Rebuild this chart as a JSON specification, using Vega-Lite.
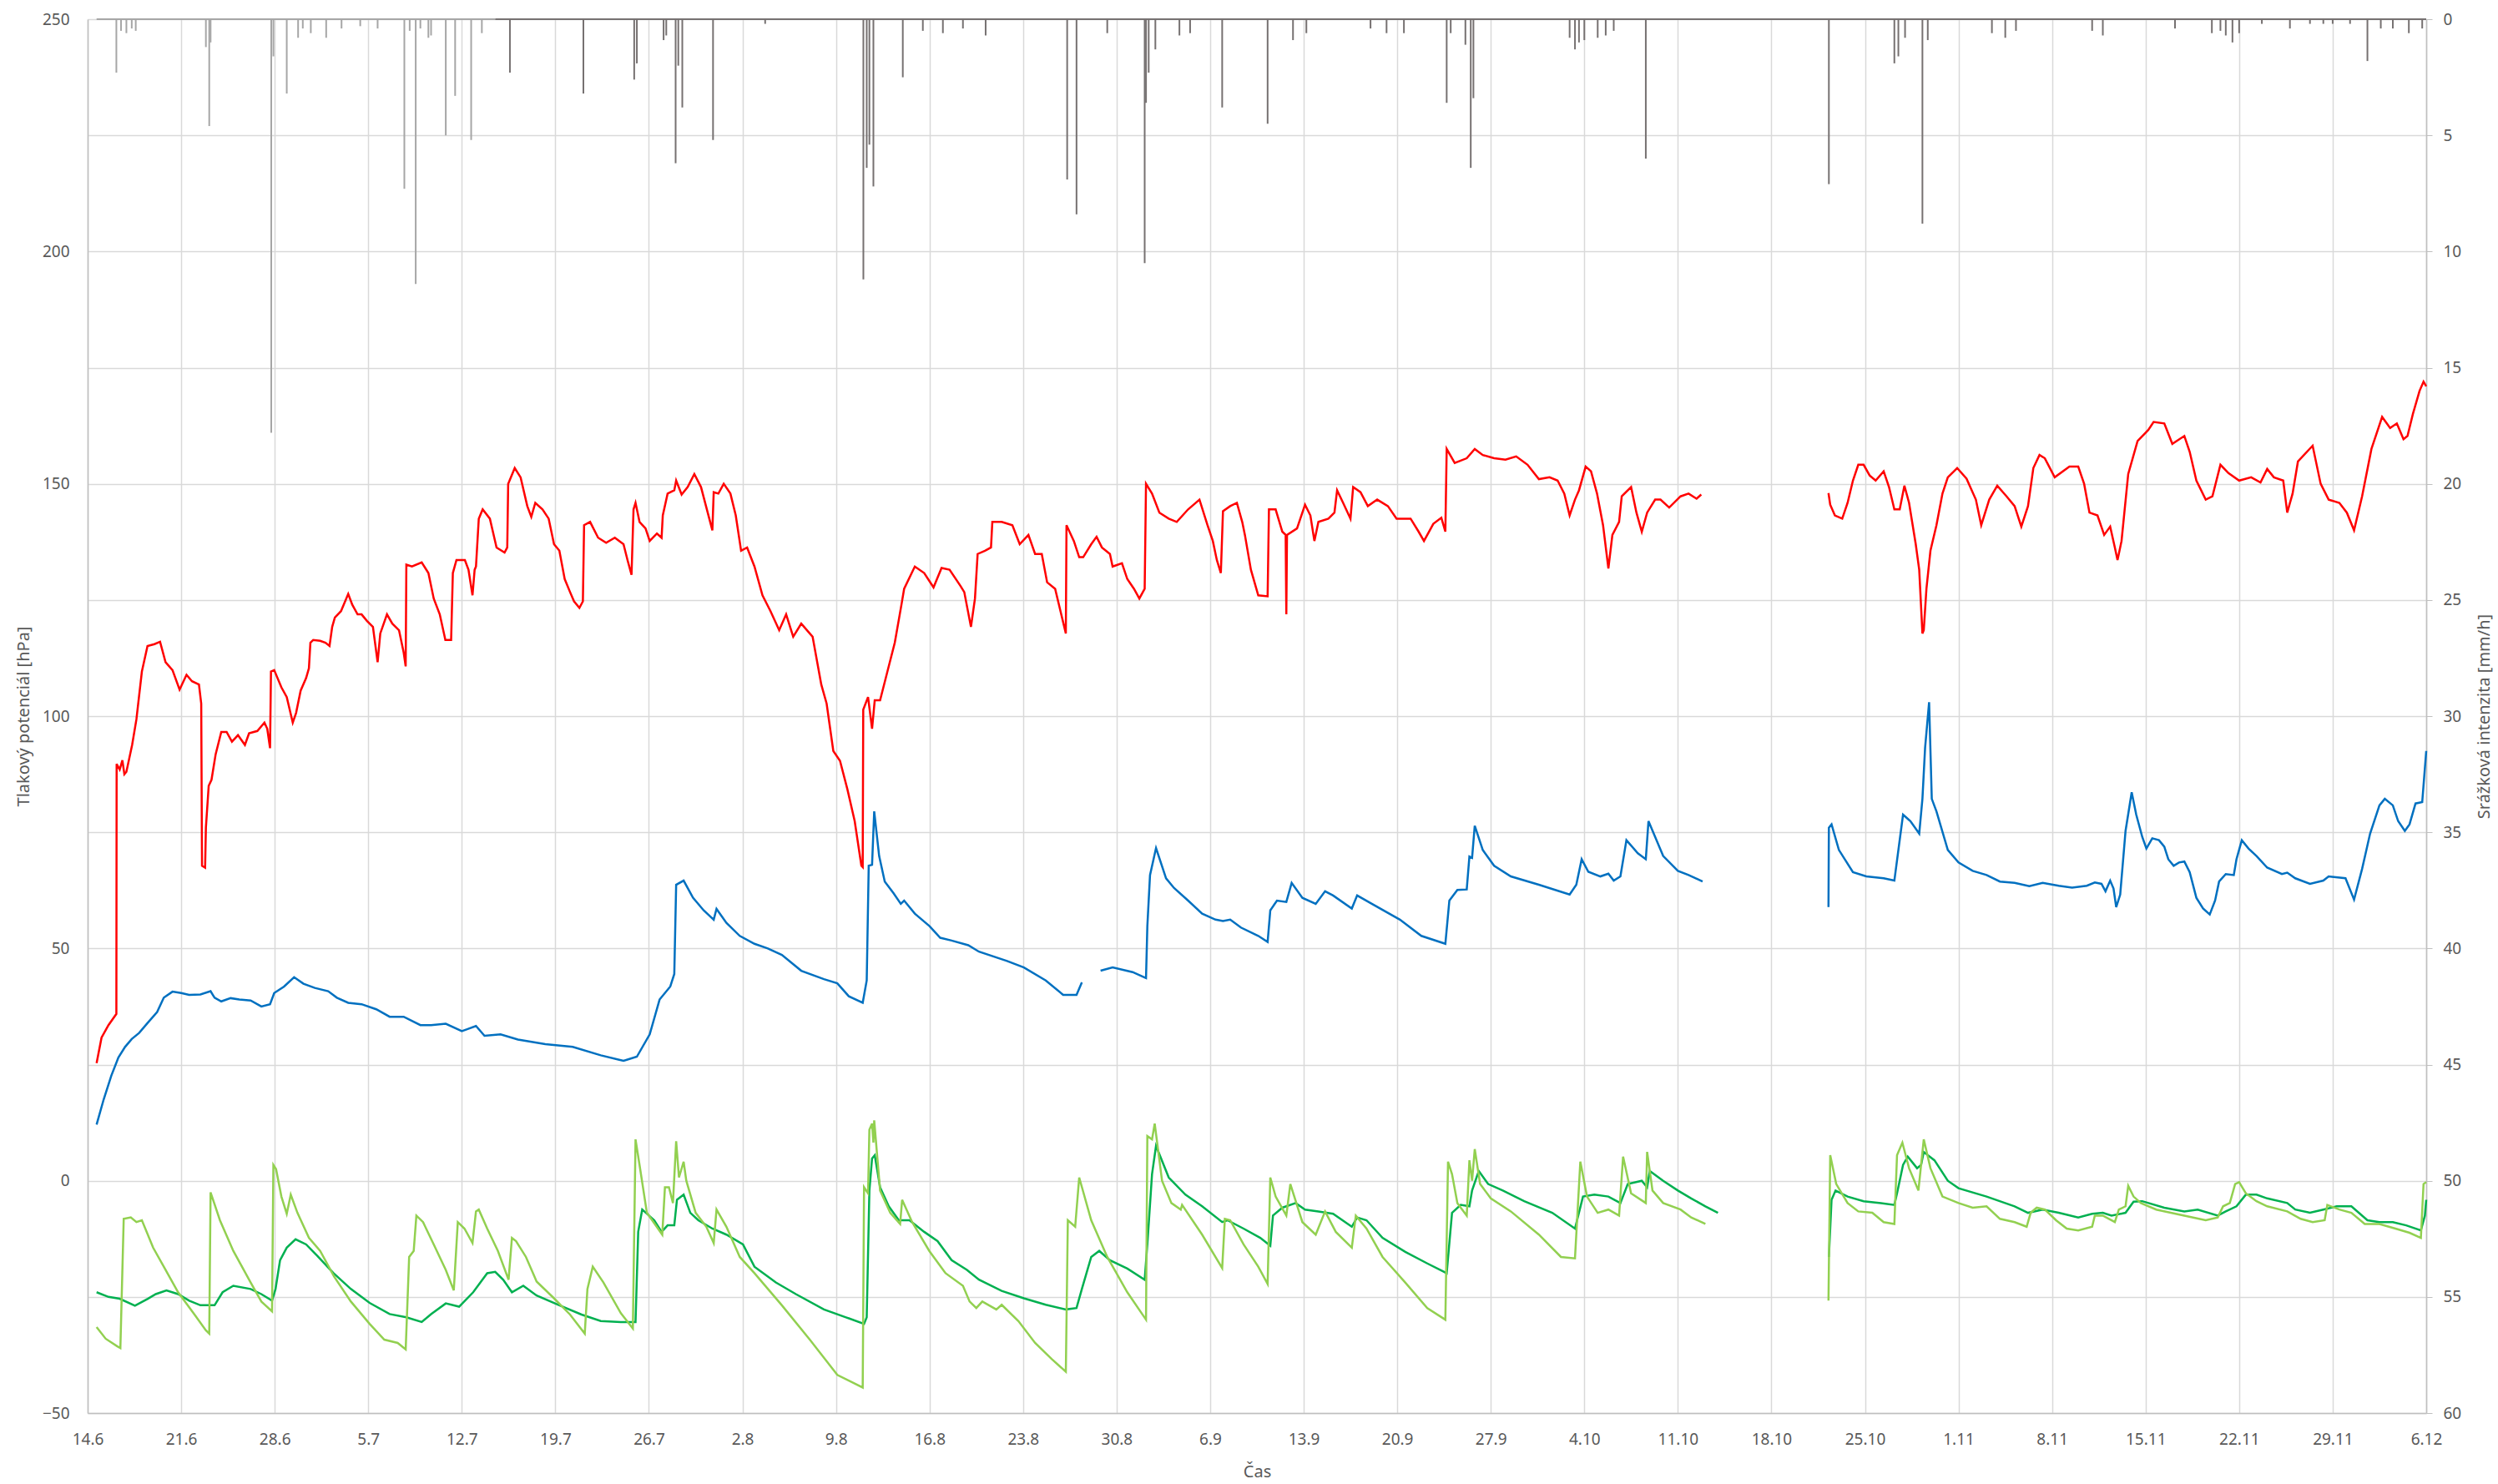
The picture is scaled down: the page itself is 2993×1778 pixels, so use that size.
{
"$schema": "https://vega.github.io/schema/vega-lite/v6.json",
"width": 2802, "height": 1670,
"autosize": {"type": "none"},
"padding": {"left": 105, "top": 23, "right": 86, "bottom": 85},
"background": "white",
"config": {"view": {"stroke": null}, "font": "Noto Sans",
  "axis": {"labelFont": "Noto Sans", "titleFont": "Noto Sans", "labelFontSize": 19, "titleFontSize": 20, "labelColor": "#595959", "titleColor": "#595959", "titleFontWeight": "normal", "domainColor": "#bfbfbf", "domainWidth": 1.5, "gridColor": "#d9d9d9", "gridWidth": 1.5, "tickColor": "#bfbfbf"}},
"datasets": {
"red": [{"t":0.67,"v":25.3},{"t":1.04,"v":30.8},{"t":1.56,"v":33.5},{"t":2.15,"v":35.9},{"t":2.17,"v":89.7},{"t":2.4,"v":88.5},{"t":2.6,"v":90.5},{"t":2.75,"v":87.5},{"t":2.9,"v":88},{"t":3.33,"v":93.8},{"t":3.65,"v":99.3},{"t":4.06,"v":109.6},{"t":4.48,"v":115.1},{"t":5.0,"v":115.5},{"t":5.42,"v":116},{"t":5.83,"v":111.6},{"t":6.35,"v":109.9},{"t":6.88,"v":105.7},{"t":7.4,"v":108.9},{"t":7.81,"v":107.5},{"t":8.33,"v":106.8},{"t":8.5,"v":102.7},{"t":8.56,"v":67.8},{"t":8.79,"v":67.4},{"t":8.85,"v":76},{"t":9.06,"v":85},{"t":9.27,"v":86.3},{"t":9.58,"v":91.8},{"t":10.0,"v":96.6},{"t":10.4,"v":96.6},{"t":10.8,"v":94.5},{"t":11.25,"v":95.9},{"t":11.77,"v":93.8},{"t":12.08,"v":96.3},{"t":12.7,"v":96.8},{"t":13.23,"v":98.6},{"t":13.44,"v":97.3},{"t":13.65,"v":93.1},{"t":13.72,"v":109.6},{"t":13.96,"v":109.9},{"t":14.5,"v":106.2},{"t":14.9,"v":104.1},{"t":15.35,"v":98.6},{"t":15.6,"v":100.7},{"t":15.94,"v":105.5},{"t":16.35,"v":108.2},{"t":16.56,"v":110.3},{"t":16.67,"v":115.8},{"t":16.88,"v":116.4},{"t":17.4,"v":116.2},{"t":17.8,"v":115.8},{"t":18.1,"v":115.1},{"t":18.3,"v":119.2},{"t":18.5,"v":121.2},{"t":18.96,"v":122.6},{"t":19.5,"v":126.3},{"t":19.8,"v":124},{"t":20.2,"v":121.9},{"t":20.5,"v":121.9},{"t":20.9,"v":120.5},{"t":21.35,"v":119.2},{"t":21.7,"v":111.6},{"t":21.9,"v":117.8},{"t":22.4,"v":121.9},{"t":22.8,"v":119.9},{"t":23.3,"v":118.5},{"t":23.65,"v":113.7},{"t":23.8,"v":110.7},{"t":23.85,"v":132.6},{"t":24.27,"v":132.2},{"t":25.0,"v":133.1},{"t":25.5,"v":130.8},{"t":25.9,"v":125.3},{"t":26.35,"v":121.9},{"t":26.77,"v":116.4},{"t":27.2,"v":116.4},{"t":27.33,"v":130.8},{"t":27.6,"v":133.6},{"t":28.23,"v":133.6},{"t":28.5,"v":131.5},{"t":28.8,"v":126},{"t":28.96,"v":131.5},{"t":29.06,"v":132.2},{"t":29.27,"v":142.5},{"t":29.56,"v":144.5},{"t":30.1,"v":142.5},{"t":30.6,"v":136.3},{"t":31.2,"v":135.2},{"t":31.4,"v":136.3},{"t":31.47,"v":150},{"t":31.96,"v":153.4},{"t":32.4,"v":151.4},{"t":32.9,"v":145.2},{"t":33.2,"v":142.9},{"t":33.5,"v":145.9},{"t":34.04,"v":144.5},{"t":34.5,"v":142.5},{"t":34.9,"v":137},{"t":35.3,"v":135.6},{"t":35.7,"v":129.5},{"t":36.1,"v":126.7},{"t":36.4,"v":124.7},{"t":36.8,"v":123.3},{"t":37.06,"v":124.7},{"t":37.15,"v":141.1},{"t":37.6,"v":141.8},{"t":38.2,"v":138.4},{"t":38.8,"v":137.3},{"t":39.45,"v":138.4},{"t":40.1,"v":137},{"t":40.4,"v":133.6},{"t":40.7,"v":130.4},{"t":40.85,"v":144.5},{"t":41.0,"v":145.9},{"t":41.3,"v":141.8},{"t":41.75,"v":140.4},{"t":42.06,"v":137.7},{"t":42.6,"v":139.3},{"t":42.95,"v":138.4},{"t":43.04,"v":143.2},{"t":43.4,"v":147.9},{"t":43.9,"v":148.6},{"t":44.04,"v":150.7},{"t":44.45,"v":147.7},{"t":44.9,"v":149.3},{"t":45.4,"v":152.1},{"t":45.9,"v":149.3},{"t":46.4,"v":143.8},{"t":46.75,"v":140},{"t":46.85,"v":148.2},{"t":47.2,"v":147.9},{"t":47.6,"v":150},{"t":48.1,"v":147.9},{"t":48.5,"v":143.2},{"t":48.9,"v":135.6},{"t":49.35,"v":136.3},{"t":49.9,"v":132.2},{"t":50.5,"v":126},{"t":51.1,"v":122.6},{"t":51.75,"v":118.5},{"t":52.27,"v":121.9},{"t":52.8,"v":117.1},{"t":53.4,"v":119.9},{"t":54.25,"v":117.1},{"t":54.9,"v":106.8},{"t":55.3,"v":102.7},{"t":55.8,"v":92.5},{"t":56.3,"v":90.4},{"t":56.85,"v":84.3},{"t":57.4,"v":77.4},{"t":57.9,"v":67.8},{"t":58.0,"v":67.5},{"t":58.04,"v":101.4},{"t":58.4,"v":104.1},{"t":58.7,"v":97.3},{"t":58.9,"v":103.4},{"t":59.3,"v":103.4},{"t":59.85,"v":109.6},{"t":60.4,"v":115.8},{"t":60.9,"v":124},{"t":61.1,"v":127.4},{"t":61.9,"v":132.2},{"t":62.6,"v":130.8},{"t":63.3,"v":127.7},{"t":63.9,"v":131.9},{"t":64.5,"v":131.5},{"t":65.3,"v":128.1},{"t":65.6,"v":126.7},{"t":66.1,"v":119.2},{"t":66.4,"v":125.3},{"t":66.6,"v":134.9},{"t":67.15,"v":135.6},{"t":67.6,"v":136.3},{"t":67.7,"v":141.8},{"t":68.4,"v":141.8},{"t":69.2,"v":141.1},{"t":69.75,"v":137},{"t":70.4,"v":139},{"t":70.9,"v":134.9},{"t":71.4,"v":134.9},{"t":71.8,"v":128.8},{"t":72.4,"v":127.4},{"t":72.8,"v":122.6},{"t":73.2,"v":117.8},{"t":73.25,"v":141.1},{"t":73.8,"v":137.7},{"t":74.2,"v":134.2},{"t":74.5,"v":134.2},{"t":75.1,"v":137},{"t":75.5,"v":138.6},{"t":75.9,"v":136.3},{"t":76.5,"v":134.9},{"t":76.7,"v":132.2},{"t":77.4,"v":132.9},{"t":77.8,"v":129.5},{"t":78.3,"v":127.4},{"t":78.7,"v":125.3},{"t":79.1,"v":127.4},{"t":79.2,"v":150},{"t":79.65,"v":147.9},{"t":80.2,"v":143.8},{"t":80.9,"v":142.5},{"t":81.5,"v":141.8},{"t":82.35,"v":144.5},{"t":83.2,"v":146.6},{"t":83.8,"v":141.1},{"t":84.2,"v":137.7},{"t":84.5,"v":133.6},{"t":84.8,"v":130.8},{"t":84.96,"v":144.1},{"t":85.5,"v":145.2},{"t":86.0,"v":145.9},{"t":86.4,"v":141.8},{"t":86.6,"v":139},{"t":87.05,"v":131.5},{"t":87.6,"v":126},{"t":88.3,"v":125.8},{"t":88.4,"v":144.5},{"t":88.9,"v":144.5},{"t":89.4,"v":139.7},{"t":89.65,"v":139},{"t":89.7,"v":121.9},{"t":89.75,"v":139},{"t":90.5,"v":140.4},{"t":91.1,"v":145.5},{"t":91.5,"v":143.2},{"t":91.8,"v":137.7},{"t":92.1,"v":141.8},{"t":92.85,"v":142.5},{"t":93.3,"v":143.8},{"t":93.5,"v":148.6},{"t":93.95,"v":145.9},{"t":94.5,"v":142.5},{"t":94.7,"v":149.3},{"t":95.25,"v":148.2},{"t":95.8,"v":145.2},{"t":96.5,"v":146.6},{"t":97.3,"v":145.2},{"t":97.95,"v":142.5},{"t":99.0,"v":142.5},{"t":99.6,"v":139.7},{"t":100.0,"v":137.7},{"t":100.7,"v":141.4},{"t":101.3,"v":142.7},{"t":101.6,"v":139.7},{"t":101.7,"v":157.5},{"t":102.3,"v":154.5},{"t":103.2,"v":155.5},{"t":103.8,"v":157.5},{"t":104.4,"v":156.2},{"t":105.25,"v":155.5},{"t":106.1,"v":155.2},{"t":106.9,"v":155.9},{"t":107.75,"v":154.1},{"t":108.6,"v":151},{"t":109.4,"v":151.4},{"t":110.0,"v":150.7},{"t":110.5,"v":147.9},{"t":110.9,"v":143.2},{"t":111.3,"v":146.6},{"t":111.6,"v":148.6},{"t":112.1,"v":153.7},{"t":112.5,"v":152.7},{"t":112.95,"v":147.9},{"t":113.4,"v":141.1},{"t":113.8,"v":131.8},{"t":114.1,"v":139},{"t":114.6,"v":141.8},{"t":114.8,"v":147.3},{"t":115.5,"v":149.3},{"t":115.9,"v":143.8},{"t":116.3,"v":139.7},{"t":116.7,"v":143.8},{"t":117.3,"v":146.6},{"t":117.7,"v":146.6},{"t":118.35,"v":144.9},{"t":119.2,"v":147.3},{"t":119.8,"v":147.9},{"t":120.4,"v":146.8},{"t":120.75,"v":147.7},{"t":125,"v":null},{"t":130.27,"v":148},{"t":130.4,"v":145.5},{"t":130.75,"v":143.2},{"t":131.3,"v":142.5},{"t":131.7,"v":145.9},{"t":132.1,"v":150.7},{"t":132.5,"v":154.1},{"t":132.9,"v":154.1},{"t":133.35,"v":151.8},{"t":133.8,"v":150.7},{"t":134.4,"v":152.7},{"t":134.8,"v":149.3},{"t":135.2,"v":144.5},{"t":135.6,"v":144.5},{"t":135.95,"v":149.6},{"t":136.3,"v":145.9},{"t":136.8,"v":137},{"t":137.06,"v":131.5},{"t":137.3,"v":117.8},{"t":137.4,"v":118.5},{"t":137.6,"v":127.4},{"t":137.9,"v":135.6},{"t":138.35,"v":141.1},{"t":138.8,"v":147.9},{"t":139.2,"v":151.4},{"t":139.9,"v":153.4},{"t":140.6,"v":151.1},{"t":141.3,"v":146.6},{"t":141.7,"v":141.1},{"t":142.3,"v":146.6},{"t":142.9,"v":149.6},{"t":143.6,"v":147.3},{"t":144.2,"v":145.2},{"t":144.7,"v":140.8},{"t":145.2,"v":145.2},{"t":145.6,"v":153.4},{"t":146.06,"v":156.2},{"t":146.46,"v":155.5},{"t":147.2,"v":151.4},{"t":148.3,"v":153.7},{"t":148.96,"v":153.7},{"t":149.4,"v":150},{"t":149.8,"v":143.8},{"t":150.4,"v":143.2},{"t":150.9,"v":139},{"t":151.35,"v":140.8},{"t":151.7,"v":136.3},{"t":151.9,"v":133.6},{"t":152.2,"v":137.7},{"t":152.7,"v":152.1},{"t":153.4,"v":159.2},{"t":154.2,"v":161.6},{"t":154.6,"v":163.3},{"t":155.4,"v":163},{"t":156.0,"v":158.6},{"t":156.9,"v":160.3},{"t":157.3,"v":156.9},{"t":157.8,"v":150.7},{"t":158.5,"v":146.6},{"t":159.0,"v":147.3},{"t":159.6,"v":154.1},{"t":160.2,"v":152.3},{"t":161.0,"v":150.7},{"t":161.9,"v":151.4},{"t":162.6,"v":150.3},{"t":163.1,"v":153.2},{"t":163.6,"v":151.4},{"t":164.3,"v":150.7},{"t":164.6,"v":143.8},{"t":165.0,"v":147.9},{"t":165.4,"v":154.8},{"t":166.5,"v":158.2},{"t":167.1,"v":150},{"t":167.7,"v":146.6},{"t":168.5,"v":145.9},{"t":169.06,"v":143.8},{"t":169.6,"v":140},{"t":170.2,"v":147.3},{"t":170.9,"v":157.5},{"t":171.7,"v":164.4},{"t":172.3,"v":162},{"t":172.8,"v":163},{"t":173.3,"v":159.6},{"t":173.6,"v":160.3},{"t":174.0,"v":165},{"t":174.5,"v":170},{"t":174.8,"v":172},{"t":175.0,"v":171}],
"blue": [{"t":0.67,"v":12.1},{"t":1.2,"v":17.5},{"t":1.77,"v":22.6},{"t":2.3,"v":26.5},{"t":2.8,"v":28.8},{"t":3.3,"v":30.5},{"t":3.85,"v":31.8},{"t":4.5,"v":34},{"t":5.2,"v":36.3},{"t":5.7,"v":39.4},{"t":6.35,"v":40.7},{"t":7.0,"v":40.4},{"t":7.6,"v":40},{"t":8.44,"v":40.1},{"t":9.2,"v":40.8},{"t":9.5,"v":39.4},{"t":10.0,"v":38.6},{"t":10.7,"v":39.3},{"t":11.35,"v":39},{"t":12.2,"v":38.8},{"t":13.0,"v":37.5},{"t":13.65,"v":38},{"t":13.96,"v":40.4},{"t":14.7,"v":41.8},{"t":15.45,"v":43.8},{"t":16.15,"v":42.4},{"t":17.0,"v":41.5},{"t":18.0,"v":40.8},{"t":18.65,"v":39.4},{"t":19.5,"v":38.3},{"t":20.5,"v":38},{"t":21.6,"v":36.9},{"t":22.6,"v":35.3},{"t":23.65,"v":35.3},{"t":24.9,"v":33.5},{"t":25.7,"v":33.5},{"t":26.8,"v":33.8},{"t":28.0,"v":32.2},{"t":28.4,"v":32.6},{"t":29.06,"v":33.3},{"t":29.7,"v":31.2},{"t":30.9,"v":31.5},{"t":32.2,"v":30.4},{"t":34.25,"v":29.4},{"t":36.3,"v":28.8},{"t":38.4,"v":27},{"t":40.1,"v":25.8},{"t":41.1,"v":26.7},{"t":42.06,"v":31.5},{"t":42.8,"v":39},{"t":43.6,"v":41.8},{"t":43.9,"v":44.5},{"t":44.04,"v":63.7},{"t":44.6,"v":64.6},{"t":45.3,"v":60.9},{"t":46.1,"v":58.2},{"t":46.85,"v":56.2},{"t":47.06,"v":58.5},{"t":47.8,"v":55.5},{"t":48.8,"v":52.7},{"t":49.9,"v":51},{"t":50.9,"v":50},{"t":51.95,"v":48.6},{"t":53.4,"v":45.2},{"t":55.1,"v":43.4},{"t":56.1,"v":42.5},{"t":56.96,"v":39.7},{"t":58.0,"v":38.3},{"t":58.3,"v":43.1},{"t":58.45,"v":67.8},{"t":58.7,"v":68},{"t":58.86,"v":79.5},{"t":59.23,"v":69.9},{"t":59.65,"v":64.4},{"t":60.3,"v":61.9},{"t":60.85,"v":59.6},{"t":61.1,"v":60.3},{"t":61.9,"v":57.5},{"t":63.0,"v":54.8},{"t":63.8,"v":52.3},{"t":64.65,"v":51.7},{"t":65.9,"v":50.7},{"t":66.7,"v":49.3},{"t":68.8,"v":47.3},{"t":70.06,"v":45.9},{"t":71.7,"v":43.1},{"t":73.0,"v":40},{"t":74.0,"v":40},{"t":74.4,"v":42.7},{"t":75.0,"v":null},{"t":75.8,"v":45.2},{"t":76.7,"v":45.9},{"t":78.2,"v":44.9},{"t":79.2,"v":43.6},{"t":79.3,"v":54.8},{"t":79.5,"v":65.8},{"t":79.95,"v":71.6},{"t":80.7,"v":65.1},{"t":81.3,"v":63},{"t":82.35,"v":60.3},{"t":83.4,"v":57.5},{"t":84.4,"v":56.2},{"t":84.96,"v":55.9},{"t":85.5,"v":56.2},{"t":86.3,"v":54.5},{"t":87.6,"v":52.7},{"t":88.3,"v":51.4},{"t":88.5,"v":58.2},{"t":89.0,"v":60.3},{"t":89.7,"v":60},{"t":90.1,"v":64.1},{"t":90.9,"v":60.9},{"t":91.9,"v":59.6},{"t":92.6,"v":62.3},{"t":93.2,"v":61.4},{"t":94.6,"v":58.6},{"t":95.0,"v":61.4},{"t":96.1,"v":59.6},{"t":98.2,"v":56.2},{"t":99.8,"v":52.7},{"t":101.6,"v":51},{"t":101.9,"v":60.3},{"t":102.5,"v":62.6},{"t":103.2,"v":62.7},{"t":103.4,"v":69.8},{"t":103.6,"v":69.5},{"t":103.8,"v":76.4},{"t":104.4,"v":71.2},{"t":105.25,"v":67.8},{"t":106.5,"v":65.5},{"t":108.6,"v":63.7},{"t":110.9,"v":61.6},{"t":111.4,"v":63.7},{"t":111.8,"v":69.2},{"t":112.3,"v":66.5},{"t":113.2,"v":65.5},{"t":113.8,"v":66.1},{"t":114.2,"v":64.6},{"t":114.7,"v":65.5},{"t":115.15,"v":73.3},{"t":116.0,"v":70.5},{"t":116.6,"v":69.2},{"t":116.8,"v":77.4},{"t":117.9,"v":69.9},{"t":119.0,"v":66.7},{"t":119.8,"v":65.8},{"t":120.85,"v":64.4},{"t":125,"v":null},{"t":130.27,"v":58.9},{"t":130.3,"v":76},{"t":130.5,"v":76.7},{"t":131.05,"v":71.2},{"t":132.1,"v":66.4},{"t":133.1,"v":65.5},{"t":134.4,"v":65.1},{"t":135.2,"v":64.6},{"t":135.85,"v":78.8},{"t":136.4,"v":77.4},{"t":137.06,"v":74.7},{"t":137.3,"v":82.2},{"t":137.5,"v":93.2},{"t":137.8,"v":103},{"t":138.0,"v":82.2},{"t":138.35,"v":79.5},{"t":139.2,"v":71.2},{"t":140.0,"v":68.5},{"t":141.06,"v":66.7},{"t":142.1,"v":65.8},{"t":143.1,"v":64.4},{"t":144.2,"v":64.1},{"t":145.3,"v":63.4},{"t":146.3,"v":64.1},{"t":147.5,"v":63.5},{"t":148.5,"v":63.1},{"t":149.6,"v":63.5},{"t":150.2,"v":64.2},{"t":150.7,"v":63.9},{"t":151.0,"v":62.3},{"t":151.35,"v":64.6},{"t":151.6,"v":62.9},{"t":151.8,"v":58.9},{"t":152.1,"v":61.6},{"t":152.5,"v":75.3},{"t":152.96,"v":83.6},{"t":153.3,"v":78.8},{"t":153.75,"v":74},{"t":154.06,"v":71.5},{"t":154.5,"v":73.7},{"t":155.0,"v":73.3},{"t":155.4,"v":71.9},{"t":155.7,"v":69.2},{"t":156.1,"v":67.8},{"t":156.5,"v":68.5},{"t":156.9,"v":68.7},{"t":157.3,"v":66.4},{"t":157.8,"v":60.9},{"t":158.3,"v":58.6},{"t":158.8,"v":57.3},{"t":159.2,"v":60.3},{"t":159.5,"v":64.4},{"t":160.0,"v":66},{"t":160.6,"v":65.8},{"t":160.8,"v":69.2},{"t":161.2,"v":73.3},{"t":161.7,"v":71.5},{"t":162.3,"v":69.9},{"t":163.1,"v":67.4},{"t":164.2,"v":66},{"t":164.6,"v":66.3},{"t":165.2,"v":65.1},{"t":166.3,"v":63.9},{"t":167.3,"v":64.6},{"t":167.7,"v":65.5},{"t":168.96,"v":65.1},{"t":169.6,"v":60.5},{"t":170.2,"v":67.1},{"t":170.8,"v":74.7},{"t":171.5,"v":80.8},{"t":171.9,"v":82.2},{"t":172.5,"v":80.8},{"t":172.9,"v":77.4},{"t":173.4,"v":75.3},{"t":173.75,"v":76.7},{"t":174.2,"v":81.2},{"t":174.7,"v":81.5},{"t":175.0,"v":92.5}],
"dg": [{"t":0.67,"v":-24},{"t":1.56,"v":-25},{"t":2.4,"v":-25.4},{"t":3.54,"v":-26.9},{"t":4.5,"v":-25.4},{"t":5.1,"v":-24.4},{"t":5.9,"v":-23.6},{"t":6.77,"v":-24.4},{"t":7.6,"v":-25.8},{"t":8.44,"v":-26.8},{"t":9.5,"v":-26.8},{"t":10.1,"v":-24},{"t":10.9,"v":-22.6},{"t":12.2,"v":-23.3},{"t":13.0,"v":-24.4},{"t":13.8,"v":-25.8},{"t":14.06,"v":-23.3},{"t":14.4,"v":-17.1},{"t":14.9,"v":-14.4},{"t":15.56,"v":-12.6},{"t":16.35,"v":-13.7},{"t":17.2,"v":-16.2},{"t":18.4,"v":-19.9},{"t":19.7,"v":-23.3},{"t":21.1,"v":-26.3},{"t":22.6,"v":-28.7},{"t":23.85,"v":-29.4},{"t":25.0,"v":-30.4},{"t":25.7,"v":-28.7},{"t":26.8,"v":-26.4},{"t":27.8,"v":-27.1},{"t":28.85,"v":-24},{"t":29.9,"v":-19.9},{"t":30.5,"v":-19.6},{"t":31.1,"v":-21.3},{"t":31.75,"v":-24},{"t":32.6,"v":-22.6},{"t":33.6,"v":-24.7},{"t":35.3,"v":-26.8},{"t":36.96,"v":-28.8},{"t":38.4,"v":-30.2},{"t":39.9,"v":-30.4},{"t":41.0,"v":-30.4},{"t":41.2,"v":-11},{"t":41.5,"v":-6.2},{"t":42.4,"v":-8.5},{"t":42.95,"v":-11},{"t":43.4,"v":-9.6},{"t":43.9,"v":-9.6},{"t":44.1,"v":-4.1},{"t":44.6,"v":-3},{"t":45.1,"v":-6.9},{"t":45.7,"v":-8.5},{"t":46.75,"v":-10.3},{"t":47.8,"v":-11.6},{"t":49.04,"v":-13.7},{"t":49.9,"v":-18.5},{"t":51.5,"v":-21.9},{"t":53.0,"v":-24.4},{"t":55.1,"v":-27.7},{"t":56.75,"v":-29.4},{"t":58.1,"v":-30.8},{"t":58.3,"v":-29.4},{"t":58.5,"v":-2.1},{"t":58.7,"v":4.8},{"t":58.9,"v":5.5},{"t":59.3,"v":-1.4},{"t":59.95,"v":-5.5},{"t":60.7,"v":-8.5},{"t":61.5,"v":-8.5},{"t":62.6,"v":-11},{"t":63.6,"v":-13},{"t":64.65,"v":-17.1},{"t":65.8,"v":-19.2},{"t":66.7,"v":-21.3},{"t":68.4,"v":-23.7},{"t":70.06,"v":-25.3},{"t":71.7,"v":-26.7},{"t":73.2,"v":-27.7},{"t":74.0,"v":-27.4},{"t":74.4,"v":-23.3},{"t":75.1,"v":-16.4},{"t":75.7,"v":-15.1},{"t":76.5,"v":-17.1},{"t":77.8,"v":-18.9},{"t":79.1,"v":-21.3},{"t":79.3,"v":-13.7},{"t":79.65,"v":1.4},{"t":79.95,"v":7.5},{"t":80.9,"v":0.7},{"t":82.15,"v":-3},{"t":83.4,"v":-5.5},{"t":84.9,"v":-8.9},{"t":85.3,"v":-8.5},{"t":86.5,"v":-10.3},{"t":87.75,"v":-12.3},{"t":88.5,"v":-14},{"t":88.7,"v":-7.5},{"t":89.4,"v":-5.8},{"t":90.4,"v":-4.8},{"t":91.1,"v":-6.2},{"t":92.1,"v":-6.6},{"t":93.2,"v":-7.1},{"t":94.6,"v":-9.9},{"t":95.0,"v":-7.9},{"t":95.7,"v":-8.5},{"t":96.9,"v":-12.3},{"t":98.6,"v":-15.3},{"t":100.25,"v":-17.8},{"t":101.7,"v":-19.9},{"t":102.1,"v":-6.9},{"t":102.75,"v":-5.2},{"t":103.4,"v":-5.5},{"t":103.6,"v":-2.1},{"t":104.1,"v":2.1},{"t":104.8,"v":-0.7},{"t":105.9,"v":-2.1},{"t":107.5,"v":-4.4},{"t":109.6,"v":-6.9},{"t":111.3,"v":-10.3},{"t":111.9,"v":-3.4},{"t":112.75,"v":-3},{"t":113.8,"v":-3.4},{"t":114.7,"v":-4.8},{"t":115.25,"v":-0.7},{"t":116.3,"v":0},{"t":116.7,"v":-1.4},{"t":116.9,"v":2.1},{"t":117.9,"v":0},{"t":119.0,"v":-2.1},{"t":120.0,"v":-3.8},{"t":121.06,"v":-5.5},{"t":122.0,"v":-6.9},{"t":126,"v":null},{"t":130.3,"v":-16.4},{"t":130.5,"v":-4.1},{"t":130.8,"v":-2.1},{"t":131.7,"v":-3.4},{"t":132.9,"v":-4.4},{"t":134.2,"v":-4.8},{"t":135.2,"v":-5.2},{"t":135.4,"v":-2.7},{"t":135.85,"v":3.4},{"t":136.2,"v":5.2},{"t":136.9,"v":2.7},{"t":137.2,"v":3.4},{"t":137.4,"v":6.2},{"t":137.7,"v":5.5},{"t":138.2,"v":4.4},{"t":139.2,"v":0},{"t":140.0,"v":-1.6},{"t":142.1,"v":-3.4},{"t":144.2,"v":-5.5},{"t":145.2,"v":-6.9},{"t":146.3,"v":-6.2},{"t":147.5,"v":-6.9},{"t":148.96,"v":-7.9},{"t":150.0,"v":-7.1},{"t":150.8,"v":-6.9},{"t":151.45,"v":-7.5},{"t":152.5,"v":-6.9},{"t":153.1,"v":-4.5},{"t":153.75,"v":-4.4},{"t":155.4,"v":-5.8},{"t":156.9,"v":-6.6},{"t":157.9,"v":-6.2},{"t":159.4,"v":-7.5},{"t":160.0,"v":-6.6},{"t":160.8,"v":-5.5},{"t":161.5,"v":-3},{"t":162.3,"v":-3},{"t":163.1,"v":-3.8},{"t":164.6,"v":-4.8},{"t":165.2,"v":-6.2},{"t":166.3,"v":-6.9},{"t":167.3,"v":-6.2},{"t":168.3,"v":-5.5},{"t":169.4,"v":-5.5},{"t":170.6,"v":-8.5},{"t":171.5,"v":-8.9},{"t":172.5,"v":-8.9},{"t":173.5,"v":-9.6},{"t":174.6,"v":-10.7},{"t":174.9,"v":-7.5},{"t":175.0,"v":-4.1}],
"lg": [{"t":0.67,"v":-31.5},{"t":1.35,"v":-34},{"t":2.2,"v":-35.6},{"t":2.45,"v":-36},{"t":2.7,"v":-8.2},{"t":3.23,"v":-7.9},{"t":3.65,"v":-8.9},{"t":4.06,"v":-8.5},{"t":4.9,"v":-14.4},{"t":5.7,"v":-18.5},{"t":6.77,"v":-24},{"t":8.0,"v":-28.8},{"t":8.85,"v":-32.2},{"t":9.1,"v":-32.9},{"t":9.2,"v":-2.5},{"t":9.9,"v":-8.5},{"t":10.9,"v":-15.1},{"t":12.2,"v":-21.9},{"t":13.0,"v":-26},{"t":13.8,"v":-28.1},{"t":13.9,"v":3.4},{"t":14.1,"v":2.5},{"t":14.5,"v":-3.4},{"t":14.9,"v":-7.1},{"t":15.2,"v":-3},{"t":15.7,"v":-6.9},{"t":16.56,"v":-12.3},{"t":17.4,"v":-15.1},{"t":18.44,"v":-20.6},{"t":19.7,"v":-26},{"t":21.1,"v":-30.8},{"t":22.2,"v":-34.2},{"t":23.2,"v":-34.9},{"t":23.8,"v":-36.3},{"t":24.06,"v":-16.4},{"t":24.4,"v":-15.1},{"t":24.6,"v":-7.5},{"t":25.1,"v":-8.9},{"t":25.9,"v":-13.7},{"t":26.8,"v":-19.2},{"t":27.4,"v":-23.6},{"t":27.7,"v":-8.9},{"t":28.2,"v":-10.3},{"t":28.8,"v":-13.4},{"t":29.06,"v":-6.6},{"t":29.27,"v":-6.2},{"t":29.9,"v":-10.3},{"t":30.7,"v":-15.1},{"t":31.5,"v":-21.3},{"t":31.75,"v":-12.3},{"t":32.06,"v":-13},{"t":32.8,"v":-16.4},{"t":33.6,"v":-21.7},{"t":34.9,"v":-25.3},{"t":36.1,"v":-28.8},{"t":37.2,"v":-32.9},{"t":37.4,"v":-23.3},{"t":37.8,"v":-18.5},{"t":38.6,"v":-21.9},{"t":39.9,"v":-28.5},{"t":40.8,"v":-31.8},{"t":41.0,"v":8.9},{"t":41.3,"v":3.4},{"t":41.85,"v":-6.9},{"t":43.0,"v":-11.6},{"t":43.2,"v":-1.4},{"t":43.5,"v":-1.4},{"t":43.8,"v":-4.8},{"t":44.04,"v":8.5},{"t":44.25,"v":0.7},{"t":44.6,"v":4.1},{"t":44.8,"v":0},{"t":45.5,"v":-6.9},{"t":46.3,"v":-9.9},{"t":46.85,"v":-13.4},{"t":47.06,"v":-6.2},{"t":47.8,"v":-9.9},{"t":48.8,"v":-16.4},{"t":49.9,"v":-19.9},{"t":51.95,"v":-26.8},{"t":54.04,"v":-34.2},{"t":56.1,"v":-41.8},{"t":58.0,"v":-44.5},{"t":58.1,"v":-1.4},{"t":58.4,"v":-2.7},{"t":58.5,"v":11},{"t":58.7,"v":12.3},{"t":58.8,"v":8.2},{"t":58.86,"v":13},{"t":59.3,"v":-2.1},{"t":60.06,"v":-6.9},{"t":60.8,"v":-9.3},{"t":60.95,"v":-4.1},{"t":61.7,"v":-8.9},{"t":62.98,"v":-15.1},{"t":64.2,"v":-19.9},{"t":65.5,"v":-22.6},{"t":66.0,"v":-26},{"t":66.5,"v":-27.4},{"t":66.95,"v":-26},{"t":68.0,"v":-27.7},{"t":68.4,"v":-26.7},{"t":69.65,"v":-30.2},{"t":70.9,"v":-34.9},{"t":72.15,"v":-38.4},{"t":73.2,"v":-41.1},{"t":73.35,"v":-8.5},{"t":73.9,"v":-9.9},{"t":74.2,"v":0.7},{"t":75.1,"v":-8.5},{"t":76.3,"v":-16.4},{"t":77.8,"v":-24},{"t":79.2,"v":-29.9},{"t":79.3,"v":9.6},{"t":79.65,"v":8.9},{"t":79.85,"v":12.3},{"t":80.4,"v":0},{"t":81.1,"v":-4.8},{"t":81.8,"v":-6.2},{"t":81.9,"v":-5.2},{"t":83.4,"v":-11.6},{"t":84.9,"v":-18.8},{"t":85.1,"v":-8.2},{"t":85.5,"v":-8.5},{"t":86.5,"v":-13.7},{"t":87.6,"v":-18.5},{"t":88.3,"v":-22.2},{"t":88.5,"v":0.7},{"t":88.9,"v":-3.4},{"t":89.7,"v":-7.5},{"t":90.0,"v":-0.7},{"t":90.9,"v":-8.9},{"t":91.9,"v":-11.6},{"t":92.6,"v":-6.6},{"t":93.4,"v":-11},{"t":94.6,"v":-14.4},{"t":94.9,"v":-7.5},{"t":95.7,"v":-10.3},{"t":96.9,"v":-16.4},{"t":98.6,"v":-21.9},{"t":100.25,"v":-27.4},{"t":101.6,"v":-29.9},{"t":101.8,"v":4.1},{"t":102.1,"v":1.4},{"t":102.5,"v":-4.8},{"t":103.2,"v":-7.5},{"t":103.4,"v":4.4},{"t":103.6,"v":0},{"t":103.8,"v":6.8},{"t":104.2,"v":-0.7},{"t":105.0,"v":-3.8},{"t":106.5,"v":-6.6},{"t":108.6,"v":-11.6},{"t":110.25,"v":-16.4},{"t":111.3,"v":-16.7},{"t":111.7,"v":4.1},{"t":112.2,"v":-3.4},{"t":113.0,"v":-6.9},{"t":113.8,"v":-6.2},{"t":114.6,"v":-7.5},{"t":114.9,"v":5.2},{"t":115.5,"v":-2.7},{"t":116.6,"v":-4.8},{"t":116.7,"v":6.2},{"t":117.1,"v":-2.1},{"t":117.9,"v":-4.8},{"t":119.2,"v":-6.2},{"t":120.0,"v":-7.9},{"t":121.06,"v":-9.3},{"t":125,"v":null},{"t":130.27,"v":-25.8},{"t":130.4,"v":5.5},{"t":130.85,"v":-0.7},{"t":131.7,"v":-4.8},{"t":132.5,"v":-6.6},{"t":133.55,"v":-6.9},{"t":134.4,"v":-8.9},{"t":135.2,"v":-9.3},{"t":135.4,"v":5.5},{"t":135.8,"v":8.2},{"t":136.3,"v":2.7},{"t":137.0,"v":-2.1},{"t":137.2,"v":3.4},{"t":137.4,"v":8.9},{"t":137.9,"v":2.7},{"t":138.8,"v":-3.4},{"t":140.0,"v":-4.8},{"t":141.06,"v":-5.8},{"t":142.1,"v":-5.5},{"t":143.1,"v":-8.2},{"t":144.2,"v":-8.9},{"t":145.1,"v":-9.9},{"t":145.4,"v":-6.9},{"t":145.85,"v":-5.8},{"t":146.46,"v":-6.2},{"t":147.3,"v":-8.5},{"t":148.1,"v":-10.3},{"t":148.96,"v":-10.7},{"t":150.0,"v":-9.9},{"t":150.2,"v":-7.5},{"t":150.8,"v":-7.5},{"t":151.7,"v":-8.9},{"t":152.0,"v":-6.2},{"t":152.5,"v":-5.5},{"t":152.7,"v":-1.1},{"t":153.1,"v":-3.4},{"t":153.65,"v":-4.8},{"t":154.8,"v":-6.2},{"t":156.9,"v":-7.5},{"t":158.5,"v":-8.5},{"t":159.4,"v":-7.9},{"t":159.8,"v":-5.5},{"t":160.3,"v":-4.8},{"t":160.7,"v":-0.7},{"t":161.0,"v":-0.3},{"t":161.5,"v":-2.7},{"t":162.3,"v":-4.4},{"t":163.1,"v":-5.5},{"t":164.6,"v":-6.6},{"t":165.6,"v":-8.2},{"t":166.5,"v":-8.9},{"t":167.4,"v":-8.5},{"t":167.6,"v":-5.2},{"t":168.5,"v":-6.2},{"t":169.4,"v":-6.9},{"t":170.4,"v":-9.3},{"t":171.5,"v":-9.3},{"t":172.7,"v":-10.3},{"t":173.75,"v":-11.2},{"t":174.6,"v":-12.3},{"t":174.8,"v":-0.7},{"t":175.0,"v":-0.3}],
"rain": [{"t":2.15,"r":2.3,"g":"g1"},{"t":2.5,"r":0.5,"g":"g1"},{"t":2.9,"r":0.6,"g":"g1"},{"t":3.3,"r":0.4,"g":"g1"},{"t":3.6,"r":0.5,"g":"g1"},{"t":8.85,"r":1.2,"g":"g1"},{"t":9.1,"r":4.6,"g":"g1"},{"t":9.2,"r":1.0,"g":"g1"},{"t":13.74,"r":17.8,"g":"g1"},{"t":13.9,"r":1.6,"g":"g1"},{"t":14.9,"r":3.2,"g":"g1"},{"t":15.75,"r":0.8,"g":"g1"},{"t":16.1,"r":0.4,"g":"g1"},{"t":16.7,"r":0.6,"g":"g1"},{"t":17.85,"r":0.8,"g":"g1"},{"t":19.0,"r":0.4,"g":"g1"},{"t":20.4,"r":0.3,"g":"g1"},{"t":21.7,"r":0.4,"g":"g1"},{"t":23.7,"r":7.3,"g":"g1"},{"t":24.1,"r":0.5,"g":"g1"},{"t":24.55,"r":11.4,"g":"g1"},{"t":24.9,"r":0.4,"g":"g1"},{"t":25.5,"r":0.8,"g":"g1"},{"t":25.7,"r":0.7,"g":"g1"},{"t":26.8,"r":5.0,"g":"g1"},{"t":27.5,"r":3.3,"g":"g1"},{"t":28.7,"r":5.2,"g":"g1"},{"t":29.5,"r":0.6,"g":"g1"},{"t":31.6,"r":2.3,"g":"g2"},{"t":37.1,"r":3.2,"g":"g2"},{"t":40.9,"r":2.6,"g":"g2"},{"t":41.1,"r":1.9,"g":"g2"},{"t":43.1,"r":0.9,"g":"g2"},{"t":43.3,"r":0.7,"g":"g2"},{"t":44.0,"r":6.2,"g":"g2"},{"t":44.2,"r":2.0,"g":"g2"},{"t":44.5,"r":3.8,"g":"g2"},{"t":46.8,"r":5.2,"g":"g2"},{"t":50.7,"r":0.2,"g":"g2"},{"t":58.05,"r":11.2,"g":"g2"},{"t":58.3,"r":6.4,"g":"g2"},{"t":58.5,"r":5.4,"g":"g2"},{"t":58.8,"r":7.2,"g":"g2"},{"t":61.0,"r":2.5,"g":"g2"},{"t":62.5,"r":0.5,"g":"g2"},{"t":64.0,"r":0.6,"g":"g2"},{"t":65.5,"r":0.4,"g":"g2"},{"t":67.2,"r":0.7,"g":"g2"},{"t":73.3,"r":6.9,"g":"g2"},{"t":74.0,"r":8.4,"g":"g2"},{"t":76.3,"r":0.6,"g":"g2"},{"t":79.1,"r":10.5,"g":"g2"},{"t":79.2,"r":3.6,"g":"g2"},{"t":79.4,"r":2.3,"g":"g2"},{"t":79.9,"r":1.3,"g":"g2"},{"t":81.7,"r":0.7,"g":"g2"},{"t":82.5,"r":0.6,"g":"g2"},{"t":84.9,"r":3.8,"g":"g2"},{"t":88.3,"r":4.5,"g":"g2"},{"t":90.2,"r":0.9,"g":"g2"},{"t":91.2,"r":0.6,"g":"g2"},{"t":96.0,"r":0.4,"g":"g2"},{"t":97.2,"r":0.6,"g":"g2"},{"t":98.5,"r":0.6,"g":"g2"},{"t":101.7,"r":3.6,"g":"g2"},{"t":102.0,"r":0.6,"g":"g2"},{"t":103.1,"r":1.1,"g":"g2"},{"t":103.5,"r":6.4,"g":"g2"},{"t":103.7,"r":3.4,"g":"g2"},{"t":110.9,"r":0.8,"g":"g2"},{"t":111.3,"r":1.3,"g":"g2"},{"t":111.6,"r":1.0,"g":"g2"},{"t":112.0,"r":0.9,"g":"g2"},{"t":113.0,"r":0.8,"g":"g2"},{"t":113.6,"r":0.7,"g":"g2"},{"t":114.2,"r":0.5,"g":"g2"},{"t":116.6,"r":6.0,"g":"g2"},{"t":130.3,"r":7.1,"g":"g2"},{"t":135.2,"r":1.9,"g":"g2"},{"t":135.5,"r":1.6,"g":"g2"},{"t":136.0,"r":0.8,"g":"g2"},{"t":137.3,"r":8.8,"g":"g2"},{"t":137.7,"r":0.9,"g":"g2"},{"t":142.5,"r":0.6,"g":"g2"},{"t":143.5,"r":0.8,"g":"g2"},{"t":144.3,"r":0.5,"g":"g2"},{"t":150.0,"r":0.5,"g":"g2"},{"t":150.8,"r":0.7,"g":"g2"},{"t":156.2,"r":0.4,"g":"g2"},{"t":158.96,"r":0.6,"g":"g2"},{"t":159.6,"r":0.5,"g":"g2"},{"t":160.0,"r":0.7,"g":"g2"},{"t":160.5,"r":1.0,"g":"g2"},{"t":161.0,"r":0.6,"g":"g2"},{"t":162.7,"r":0.2,"g":"g2"},{"t":164.8,"r":0.4,"g":"g2"},{"t":166.3,"r":0.2,"g":"g2"},{"t":167.3,"r":0.2,"g":"g2"},{"t":168.0,"r":0.2,"g":"g2"},{"t":169.3,"r":0.2,"g":"g2"},{"t":170.6,"r":1.8,"g":"g2"},{"t":171.6,"r":0.4,"g":"g2"},{"t":172.5,"r":0.4,"g":"g2"},{"t":173.7,"r":0.6,"g":"g2"},{"t":174.7,"r":0.4,"g":"g2"}],
"base": [{"t":0.67,"t2":30.5,"g":"g1"},{"t":30.5,"t2":175,"g":"g2"}]
},
"encoding": {"x": {"field": "t", "type": "quantitative", "scale": {"domain": [0, 175], "nice": false, "zero": false},
  "axis": {"values": [0,7,14,21,28,35,42,49,56,63,70,77,84,91,98,105,112,119,126,133,140,147,154,161,168,175], "labelExpr": "timeFormat(datetime(2021, 5, 14 + datum.value), '%-d.%-m')", "title": "Čas", "grid": true, "ticks": false, "labelPadding": 22, "titlePadding": 19, "labelFlush": false}}},
"layer": [
 {"layer": [
  {"data": {"name": "red"}, "mark": {"type": "line", "color": "#ff0000", "strokeWidth": 2.5, "invalid": "break-paths-show-domains"},
   "encoding": {"y": {"field": "v", "type": "quantitative", "scale": {"domain": [-50, 250], "nice": false, "zero": false},
     "axis": {"values": [-50,0,50,100,150,200,250], "grid": false, "ticks": false, "labelPadding": 22, "title": "Tlakový potenciál [hPa]", "titlePadding": 12}}}},
  {"data": {"name": "blue"}, "mark": {"type": "line", "color": "#0070c0", "strokeWidth": 2.5, "invalid": "break-paths-show-domains"},
   "encoding": {"y": {"field": "v", "type": "quantitative"}}},
  {"data": {"name": "dg"}, "mark": {"type": "line", "color": "#00b050", "strokeWidth": 2.5, "invalid": "break-paths-show-domains"},
   "encoding": {"y": {"field": "v", "type": "quantitative"}}},
  {"data": {"name": "lg"}, "mark": {"type": "line", "color": "#92d050", "strokeWidth": 2.5, "invalid": "break-paths-show-domains"},
   "encoding": {"y": {"field": "v", "type": "quantitative"}}}
 ]},
 {"layer": [
  {"data": {"name": "rain"}, "mark": {"type": "rule", "strokeWidth": 2},
   "encoding": {"y": {"field": "r", "type": "quantitative", "scale": {"domain": [0, 60], "reverse": true, "nice": false, "zero": false},
     "axis": {"orient": "right", "values": [0,5,10,15,20,25,30,35,40,45,50,55,60], "grid": true, "ticks": true, "tickSize": 7, "labelPadding": 13, "title": "Srážková intenzita [mm/h]", "titleAngle": 270, "titlePadding": 38}},
    "y2": {"datum": 0},
    "color": {"field": "g", "type": "nominal", "scale": {"domain": ["g1", "g2"], "range": ["#a6a6a6", "#767171"]}, "legend": null}}},
  {"data": {"name": "base"}, "mark": {"type": "rule", "strokeWidth": 2},
   "encoding": {"x2": {"field": "t2"}, "y": {"datum": 0, "type": "quantitative"},
    "color": {"field": "g", "type": "nominal", "scale": {"domain": ["g1", "g2"], "range": ["#a6a6a6", "#767171"]}, "legend": null}}}
 ]}
],
"resolve": {"scale": {"y": "independent"}, "axis": {"y": "independent"}}
}
